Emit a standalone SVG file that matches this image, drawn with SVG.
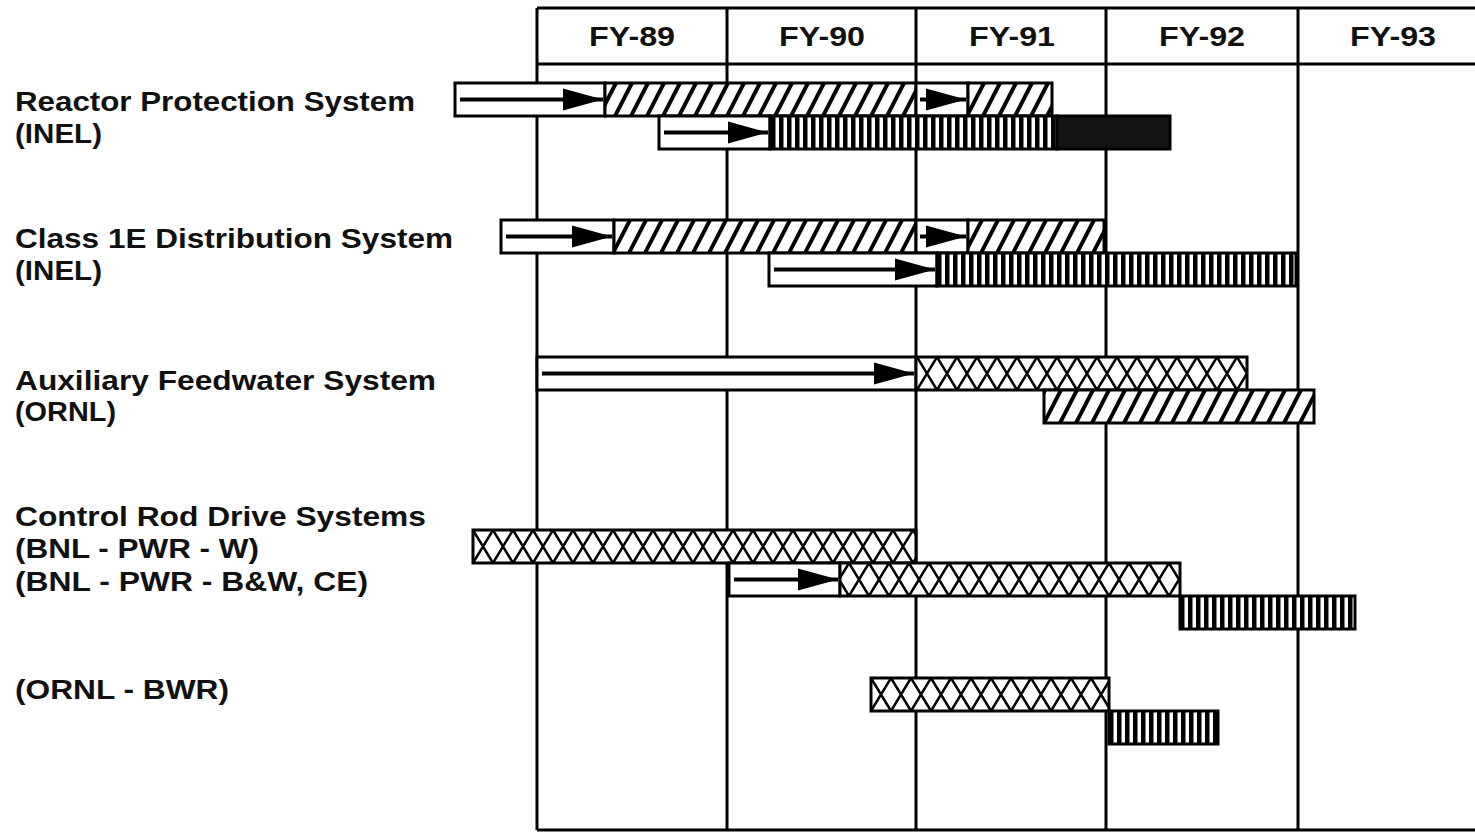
<svg xmlns="http://www.w3.org/2000/svg" width="1475" height="833" viewBox="0 0 1475 833">
<style>
.lbl{font-family:"Liberation Sans",Arial,sans-serif;font-weight:bold;font-size:27.5px;fill:#111}
.hdr{font-family:"Liberation Sans",Arial,sans-serif;font-weight:bold;font-size:28px;fill:#111;text-anchor:middle}
.grid{stroke:#000;stroke-width:3;fill:none}
.seg{stroke:#000;stroke-width:3}
.w{fill:#fff}
.d{fill:url(#diag)}
.v{fill:url(#vert)}
.x{fill:url(#cross)}
.k{fill:#141414}
.arr{stroke:#000;stroke-width:4;fill:none;marker-end:url(#ah)}
</style>
<defs>
<pattern id="diag" width="16" height="33" patternUnits="userSpaceOnUse">
<rect width="16" height="33" fill="#fff"/>
<path d="M-32,33 L-15,0 M-16,33 L1,0 M0,33 L17,0 M16,33 L33,0" stroke="#000" stroke-width="4"/>
</pattern>
<pattern id="vert" width="8" height="33" patternUnits="userSpaceOnUse">
<rect width="8" height="33" fill="#fff"/>
<rect x="0" width="4.5" height="33" fill="#000"/>
</pattern>
<pattern id="cross" width="20" height="33" patternUnits="userSpaceOnUse">
<rect width="20" height="33" fill="#fff"/>
<path d="M0,0 L20,33 M20,0 L0,33 M-20,0 L0,33 M20,0 L40,33 M0,0 L-20,33 M40,0 L20,33" stroke="#000" stroke-width="2.5"/>
</pattern>
<marker id="ah" markerUnits="userSpaceOnUse" markerWidth="40" markerHeight="24" refX="40" refY="12" orient="auto">
<path d="M0,1 L40,12 L0,23 Z" fill="#000"/>
</marker>
</defs>
<rect width="1475" height="833" fill="#fff"/>

<g id="grid">
<line class="grid" x1="537" y1="8" x2="1475" y2="8"/>
<line class="grid" x1="537" y1="64" x2="1475" y2="64"/>
<line class="grid" x1="537" y1="830" x2="1475" y2="830"/>
<line class="grid" x1="537" y1="8" x2="537" y2="830"/>
<line class="grid" x1="727" y1="8" x2="727" y2="830"/>
<line class="grid" x1="916" y1="8" x2="916" y2="830"/>
<line class="grid" x1="1106" y1="8" x2="1106" y2="830"/>
<line class="grid" x1="1298" y1="8" x2="1298" y2="830"/>
<text class="hdr" x="632" y="46" textLength="86" lengthAdjust="spacingAndGlyphs">FY-89</text>
<text class="hdr" x="822" y="46" textLength="86" lengthAdjust="spacingAndGlyphs">FY-90</text>
<text class="hdr" x="1012" y="46" textLength="86" lengthAdjust="spacingAndGlyphs">FY-91</text>
<text class="hdr" x="1202" y="46" textLength="86" lengthAdjust="spacingAndGlyphs">FY-92</text>
<text class="hdr" x="1393" y="46" textLength="86" lengthAdjust="spacingAndGlyphs">FY-93</text>
</g>

<g id="labels">
<text class="lbl" x="15" y="111" textLength="400" lengthAdjust="spacingAndGlyphs">Reactor Protection System</text>
<text class="lbl" x="15" y="143" textLength="87" lengthAdjust="spacingAndGlyphs">(INEL)</text>
<text class="lbl" x="15" y="248" textLength="438" lengthAdjust="spacingAndGlyphs">Class 1E Distribution System</text>
<text class="lbl" x="15" y="280" textLength="87" lengthAdjust="spacingAndGlyphs">(INEL)</text>
<text class="lbl" x="15" y="390" textLength="421" lengthAdjust="spacingAndGlyphs">Auxiliary Feedwater System</text>
<text class="lbl" x="15" y="421" textLength="101" lengthAdjust="spacingAndGlyphs">(ORNL)</text>
<text class="lbl" x="15" y="526" textLength="411" lengthAdjust="spacingAndGlyphs">Control Rod Drive Systems</text>
<text class="lbl" x="15" y="558" textLength="244" lengthAdjust="spacingAndGlyphs">(BNL - PWR - W)</text>
<text class="lbl" x="15" y="591" textLength="353" lengthAdjust="spacingAndGlyphs">(BNL - PWR - B&amp;W, CE)</text>
<text class="lbl" x="15" y="699" textLength="214" lengthAdjust="spacingAndGlyphs">(ORNL - BWR)</text>
</g>

<g id="rps-a" transform="translate(455,83)">
<rect class="seg w" x="0" y="0" width="150" height="33"/>
<rect class="seg d" x="150" y="0" width="311" height="33"/>
<rect class="seg w" x="461" y="0" width="52" height="33"/>
<rect class="seg d" x="513" y="0" width="84" height="33"/>
</g>
<g id="rps-b" transform="translate(659,116)">
<rect class="seg w" x="0" y="0" width="111" height="33"/>
<rect class="seg v" x="111" y="0" width="287" height="33"/>
<rect class="seg k" x="398" y="0" width="113" height="33"/>
</g>
<g id="c1e-a" transform="translate(501,220)">
<rect class="seg w" x="0" y="0" width="113" height="33"/>
<rect class="seg d" x="113" y="0" width="302" height="33"/>
<rect class="seg w" x="415" y="0" width="52" height="33"/>
<rect class="seg d" x="467" y="0" width="136" height="33"/>
</g>
<g id="c1e-b" transform="translate(769,253)">
<rect class="seg w" x="0" y="0" width="168" height="33"/>
<rect class="seg v" x="168" y="0" width="359" height="33"/>
</g>
<g id="afw-a" transform="translate(537,357)">
<rect class="seg w" x="0" y="0" width="379" height="33"/>
<rect class="seg x" x="379" y="0" width="331" height="33"/>
</g>
<g id="afw-b" transform="translate(1044,390)">
<rect class="seg d" x="0" y="0" width="270" height="33"/>
</g>
<g id="crd-w" transform="translate(473,530)">
<rect class="seg x" x="0" y="0" width="443" height="33"/>
</g>
<g id="crd-bw" transform="translate(729,563)">
<rect class="seg w" x="0" y="0" width="111" height="33"/>
<rect class="seg x" x="111" y="0" width="340" height="33"/>
</g>
<g id="crd-bw2" transform="translate(1180,596)">
<rect class="seg v" x="0" y="0" width="175" height="33"/>
</g>
<g id="bwr-a" transform="translate(871,678)">
<rect class="seg x" x="0" y="0" width="238" height="33"/>
</g>
<g id="bwr-b" transform="translate(1109,711)">
<rect class="seg v" x="0" y="0" width="109" height="33"/>
</g>

<g id="connectors">
<line class="arr" x1="460" y1="99.5" x2="603" y2="99.5"/>
<line class="arr" x1="920" y1="99.5" x2="966" y2="99.5"/>
<line class="arr" x1="664" y1="132.5" x2="768" y2="132.5"/>
<line class="arr" x1="506" y1="236.5" x2="612" y2="236.5"/>
<line class="arr" x1="920" y1="236.5" x2="966" y2="236.5"/>
<line class="arr" x1="774" y1="269.5" x2="935" y2="269.5"/>
<line class="arr" x1="542" y1="373.5" x2="914" y2="373.5"/>
<line class="arr" x1="734" y1="579.5" x2="838" y2="579.5"/>
</g>
</svg>
